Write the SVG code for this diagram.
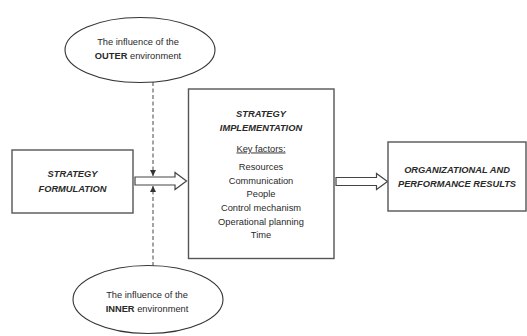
<svg xmlns="http://www.w3.org/2000/svg" width="527" height="336" viewBox="0 0 527 336">
<defs>
<style>
.box{fill:#fff;stroke:#555;stroke-width:1.4}
.ell{fill:#fff;stroke:#333;stroke-width:1.1}
.t{font-family:"Liberation Sans",Arial,sans-serif;font-size:9.3px;fill:#2a2a2a;text-anchor:middle}
.b{font-weight:bold;font-style:italic}
.dash{stroke:#666;stroke-width:1.2;stroke-dasharray:4 2.5;fill:none}
.hollow{fill:#fff;stroke:#444;stroke-width:1.2;stroke-linejoin:miter}
</style>
<marker id="ah" viewBox="0 0 6 6" refX="6" refY="3" markerWidth="6" markerHeight="6" markerUnits="userSpaceOnUse" orient="auto">
<path d="M0,0 L6,3 L0,6 Z" fill="#333"/>
</marker>
</defs>
<rect width="527" height="336" fill="#fff"/>
<g id="connectors">
<line class="dash" x1="153" y1="82" x2="153" y2="176" marker-end="url(#ah)"/>
<line class="dash" x1="153" y1="266" x2="153" y2="186" marker-end="url(#ah)"/>
<path class="hollow" d="M135,177 L175,177 L175,172.5 L186.5,181 L175,189.5 L175,185 L135,185 Z"/>
<path class="hollow" d="M336,177.5 L376.5,177.5 L376.5,173.5 L387.5,181.5 L376.5,189.5 L376.5,185.5 L336,185.5 Z"/>
</g>
<g id="outer">
<ellipse class="ell" cx="140" cy="50" rx="75" ry="32.5"/>
<text class="t" x="138" y="45">The influence of the</text>
<text class="t" x="138" y="59"><tspan font-weight="bold">OUTER</tspan> environment</text>
</g>
<g id="inner">
<ellipse class="ell" cx="148" cy="299.5" rx="75" ry="34"/>
<text class="t" x="147" y="297.5">The influence of the</text>
<text class="t" x="147" y="311.5"><tspan font-weight="bold">INNER</tspan> environment</text>
</g>
<g id="formulation">
<rect class="box" x="12" y="150" width="121" height="63"/>
<text class="t b" x="72.5" y="176.5">STRATEGY</text>
<text class="t b" x="72.5" y="191.5">FORMULATION</text>
</g>
<g id="implementation">
<rect class="box" x="188.5" y="89" width="145.5" height="169.5"/>
<text class="t b" x="261" y="116.5">STRATEGY</text>
<text class="t b" x="261" y="130.5">IMPLEMENTATION</text>
<text class="t" x="261" y="151.5" text-decoration="underline">Key factors:</text>
<text class="t" x="261" y="169.5">Resources</text>
<text class="t" x="261" y="183.5">Communication</text>
<text class="t" x="261" y="196.5">People</text>
<text class="t" x="261" y="210.5">Control mechanism</text>
<text class="t" x="261" y="224.5">Operational planning</text>
<text class="t" x="261" y="237.5">Time</text>
</g>
<g id="results">
<rect class="box" x="388" y="142" width="138" height="69"/>
<text class="t b" x="457" y="172.5">ORGANIZATIONAL AND</text>
<text class="t b" x="457" y="186.5">PERFORMANCE RESULTS</text>
</g>
</svg>
